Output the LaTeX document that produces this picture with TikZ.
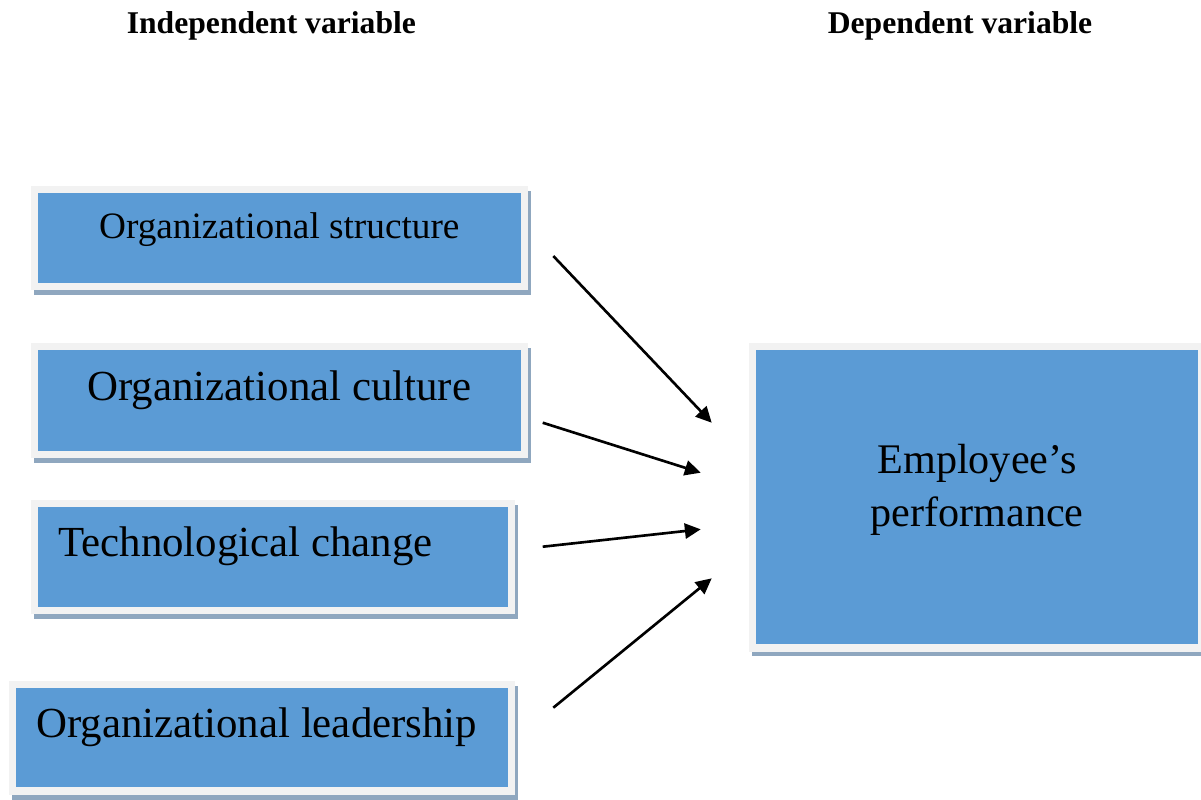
\documentclass[tikz,border=0pt]{standalone}
\usepackage{fontspec}
\setmainfont{Liberation Serif}
\usetikzlibrary{arrows.meta, positioning}

\definecolor{boxblue}{HTML}{5B9BD5}
\definecolor{framegray}{HTML}{F2F2F2}
\definecolor{shadowblue}{HTML}{8FA7BF}

\tikzstyle{varbox} = [rectangle, fill=boxblue, draw=framegray, line width=2.1pt, outer sep=0pt, inner xsep=0.24cm, inner ysep=0pt, text height=0.52cm, text depth=0.52cm, font=\fontsize{12.2}{15.2}\selectfont, preaction={draw=shadowblue, fill=shadowblue, transform canvas={shift={(0.9pt,-1.4pt)}}}]
\tikzstyle{heading} = [anchor=base, inner sep=0pt, font=\fontsize{9}{11}\selectfont\bfseries]
\tikzstyle{link} = [line width=0.75pt, -{Triangle[length=4.5pt, width=4.3pt]}, black]

\begin{document}
\begin{tikzpicture}
	\useasboundingbox (0,0) rectangle (12.01,-7.99);

	% Headings
	\node (indep_title) [heading] at (2.714,-0.333) {Independent variable};
	\node (dep_title) [heading] at (9.60,-0.333) {Dependent variable};

	% Independent variables
	\node (struct) [varbox, minimum width=4.9cm, text height=0.487cm, text depth=0.484cm, font=\fontsize{10.6}{13}\selectfont] at (2.793,-2.379) {Organizational structure};
	\node (culture) [varbox, minimum width=4.9cm, text height=0.537cm, text depth=0.544cm, below=0.6cm of struct.south west, anchor=north west] {Organizational culture};
	\node (techno) [varbox, text width=4.29cm, align=flush left, text height=0.534cm, text depth=0.537cm, below=0.49cm of culture.south west, anchor=north west] {Technological change};
	\node (leader) [varbox, text width=4.51cm, align=flush left, text height=0.524cm, text depth=0.54cm, below left=0.74cm and 0.22cm of techno.south west, anchor=north west] {Organizational leadership};

	% Dependent variable
	\node (perf) [varbox, minimum width=4.494cm, minimum height=3.014cm, text height=1.804cm, text depth=1.21cm, align=center, font=\fontsize{12}{15.2}\selectfont, right=2.28cm of culture.north east, anchor=north west] {Employee’s\\performance};

	% Arrow ends
	\coordinate (struct_out) at (5.533,-2.56);
	\coordinate (culture_out) at (5.427,-4.227);
	\coordinate (techno_out) at (5.427,-5.467);
	\coordinate (leader_out) at (5.533,-7.077);
	\coordinate (perf_in1) at (7.117,-4.227);
	\coordinate (perf_in2) at (7.007,-4.727);
	\coordinate (perf_in3) at (7.007,-5.293);
	\coordinate (perf_in4) at (7.117,-5.783);

	% Arrows
	\draw[link] (struct_out) -- (perf_in1);
	\draw[link] (culture_out) -- (perf_in2);
	\draw[link] (techno_out) -- (perf_in3);
	\draw[link] (leader_out) -- (perf_in4);

\end{tikzpicture}
\end{document}
